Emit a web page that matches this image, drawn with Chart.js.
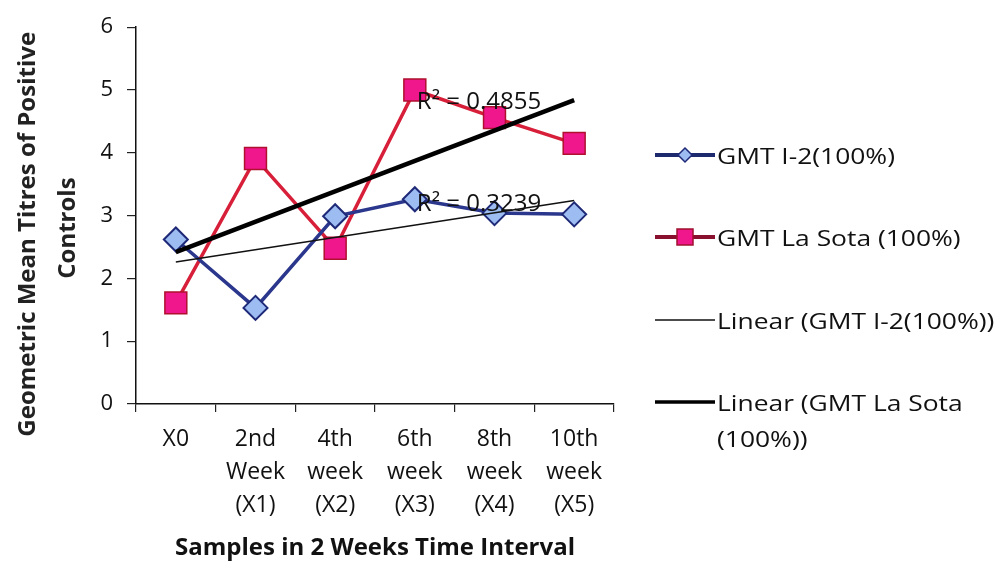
<!DOCTYPE html>
<html><head><meta charset="utf-8">
<script src="https://cdn.jsdelivr.net/npm/chart.js@4.4.1/dist/chart.umd.min.js"></script>
<style>
html,body{margin:0;padding:0;background:#fff;}
#wrap{position:relative;width:999px;height:565px;overflow:hidden;}
#c{position:absolute;left:0;top:0;}
.li{position:absolute;left:655px;height:0;}
.li svg{position:absolute;left:0;top:-10px;}
.li span{position:absolute;left:62px;top:0;transform-origin:0 50%;transform:translateY(-50%) scaleX(1.2);font-family:"Open Sans",sans-serif;font-size:22px;color:#111;white-space:nowrap;line-height:36px;}
</style></head><body>
<div id="wrap"><canvas id="c" width="999" height="565"></canvas><div id="legend"></div></div>
<script>
// ---- data ----
const categories = [["X0"], ["2nd","Week","(X1)"], ["4th","week","(X2)"], ["6th","week","(X3)"], ["8th","week","(X4)"], ["10th","week","(X5)"]];
const gmtI2 = [2.62, 1.53, 2.99, 3.26, 3.04, 3.02];
const gmtLaSota = [1.61, 3.91, 2.48, 5.0, 4.56, 4.15];
const trendI2 = [2.26, null, null, null, null, 3.24];
const trendLaSota = [2.42, null, null, null, null, 4.84];
const seriesNames = ["GMT I-2(100%)", "GMT La Sota  (100%)", "Linear (GMT I-2(100%))", "Linear (GMT La Sota\n(100%))"];
const r2Labels = ["R\u00B2 = 0.4855", "R\u00B2 = 0.3239"];
const r2Values = [4.8, 3.18];
const yTitle = ["Geometric Mean Titres of Positive      ", "Controls    "];
const xTitle = "Samples in 2 Weeks Time Interval";

const FONT = "'Open Sans'";

const r2Plugin = {
  id: 'r2',
  afterDatasetsDraw(chart) {
    const ctx = chart.ctx, xs = chart.scales.x, ys = chart.scales.y;
    ctx.save();
    ctx.font = "24px " + FONT;
    ctx.fillStyle = "#111";
    ctx.textAlign = "left";
    ctx.textBaseline = "middle";
    r2Labels.forEach((t, i) => {
      ctx.fillText(t, xs.getPixelForValue(3) + 2, ys.getPixelForValue(r2Values[i]));
    });
    ctx.restore();
  }
};

new Chart(document.getElementById('c'), {
  type: 'line',
  data: {
    labels: categories,
    datasets: [
      { label: seriesNames[3], data: trendLaSota, borderColor: '#000', borderWidth: 4.5, pointRadius: 0, spanGaps: true, order: 1 },
      { label: seriesNames[2], data: trendI2, borderColor: '#111', borderWidth: 1.5, pointRadius: 0, spanGaps: true, order: 2 },
      { label: seriesNames[0], data: gmtI2, borderColor: '#2a378c', borderWidth: 3.5, pointStyle: 'rectRot', pointRadius: 12,
        pointBackgroundColor: '#9dbcf2', pointBorderColor: '#1e2a78', pointBorderWidth: 2, order: 3 },
      { label: seriesNames[1], data: gmtLaSota, borderColor: '#d81f3a', borderWidth: 3.5, pointStyle: 'rect', pointRadius: 15.5,
        pointBackgroundColor: '#f0168c', pointBorderColor: '#b0102e', pointBorderWidth: 1.5, order: 4 }
    ]
  },
  options: {
    responsive: false,
    animation: false,
    devicePixelRatio: 1,
    layout: { padding: { top: 24, right: 385, bottom: 0, left: 0 } },
    plugins: { legend: { display: false }, tooltip: { enabled: false } },
    elements: { line: { tension: 0 } },
    scales: {
      x: {
        offset: true,
        grid: { offset: true, drawOnChartArea: false, drawTicks: true, tickLength: 8, color: '#222', lineWidth: 1.2 },
        border: { display: true, color: '#111', width: 1.5 },
        ticks: { color: '#111', font: { family: FONT, size: 23, lineHeight: 1.43 }, padding: 11, maxRotation: 0, autoSkip: false },
        title: { display: true, text: xTitle, color: '#111', font: { family: FONT, size: 24, weight: 'bold' }, padding: { top: 0, bottom: 2 } },
        afterFit(s) { s.height = 161; }
      },
      y: {
        min: 0, max: 6,
        ticks: { stepSize: 1, color: '#111', font: { family: FONT, size: 22 }, padding: 14 },
        grid: { drawOnChartArea: false, drawTicks: true, tickLength: 9, color: '#222', lineWidth: 1.2 },
        border: { display: true, color: '#111', width: 1.5 },
        title: { display: true, text: yTitle, color: '#222', font: { family: FONT, size: 24, weight: 'bold', lineHeight: 1.67 }, padding: { top: 8, bottom: 0 } },
        afterFit(s) { s.width = 136; }
      }
    }
  },
  plugins: [r2Plugin]
});

// ---- HTML legend ----
const legendY = [155, 237, 320, 402];
const legendSwatch = [
  '<svg width="62" height="20"><line x1="0" y1="10" x2="60" y2="10" stroke="#1e2a6e" stroke-width="4"/><polygon points="30,3 37,10 30,17 23,10" fill="#9dbcf2" stroke="#1e2a78" stroke-width="1.5"/></svg>',
  '<svg width="62" height="20"><line x1="0" y1="10" x2="60" y2="10" stroke="#8a1030" stroke-width="4"/><rect x="22" y="2" width="16" height="16" fill="#f0168c" stroke="#a0102e" stroke-width="1.5"/></svg>',
  '<svg width="62" height="20"><line x1="0" y1="10" x2="60" y2="10" stroke="#111" stroke-width="1.5"/></svg>',
  '<svg width="62" height="20"><line x1="0" y1="10" x2="60" y2="10" stroke="#000" stroke-width="3.5"/></svg>'
];
const lg = document.getElementById('legend');
seriesNames.forEach((n, i) => {
  const d = document.createElement('div');
  d.className = 'li';
  d.style.top = legendY[i] + 'px';
  const parts = n.split('\n');
  d.innerHTML = legendSwatch[i] + '<span style="top:' + (parts.length > 1 ? 18 : 0) + 'px">' + parts.join('<br>') + '</span>';
  lg.appendChild(d);
});
</script>
</body></html>
